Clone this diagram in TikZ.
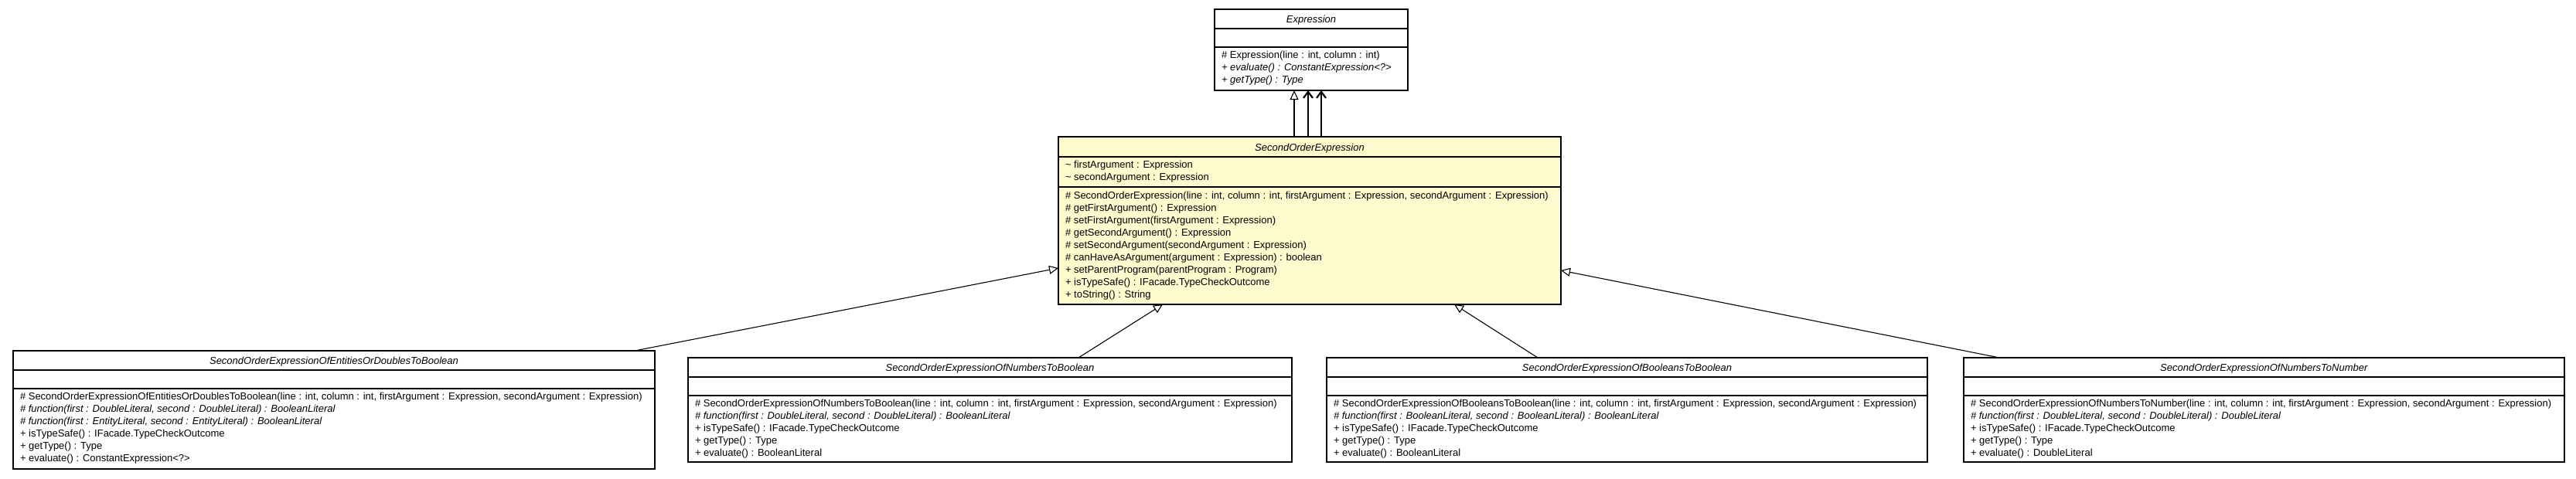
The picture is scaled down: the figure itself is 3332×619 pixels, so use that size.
\documentclass[tikz,border=0pt]{standalone}
\usepackage{fontspec}
\setmainfont{Liberation Sans}
\usetikzlibrary{arrows.meta,calc}
\definecolor{soefill}{HTML}{FFFACD}
\tikzset{
  cls/.style={draw=black, line width=1.3pt, fill=white, anchor=north west, inner sep=0pt, outer sep=0pt},
  txt/.style={inner sep=0pt, outer sep=0pt, font=\fontsize{13pt}{16pt}\selectfont},
  gen/.style={draw=black, line width=1.1pt, -{Triangle[open, length=12pt, width=11pt, fill=white]}},
  assoc/.style={draw=black, line width=1.3pt, -{Straight Barb[length=8pt, width=12pt, line width=2.2pt]}},
  divider/.style={draw=black, line width=1.3pt}
}
\newcommand{\classrows}[5]{%
  \foreach \rowtext [count=\rowi] in {#5} {
    \node[txt, anchor=base west] (#1-\rowi) at ($(#2.north west)+(#3,{#4+16*(\rowi-1)})$) {\rowtext};
  }%
}
\newcommand{\classdividers}[3]{%
  \draw[divider] ($(#1.north west)+(0,#2)$) -- ($(#1.north east)+(0,#2)$);
  \draw[divider] ($(#1.north west)+(0,#3)$) -- ($(#1.north east)+(0,#3)$);
}
\begin{document}
\begin{tikzpicture}[x=1pt, y=-1pt]
\useasboundingbox (0,0) rectangle (3332,619);

% Expression
\node[cls, minimum width=250pt, minimum height=105pt] (expr) at (1571,12) {};
\classdividers{expr}{25}{49}
\node[txt, anchor=base] (expr-t) at ($(expr.north)+(0,17.5)$) {\textit{Expression}};
\classrows{exprm}{expr}{9}{63.5}{{\# Expression(line : int, column : int)},{\textit{+ evaluate() : ConstantExpression<?>}},{\textit{+ getType() : Type}}}

% SecondOrderExpression
\node[cls, fill=soefill, minimum width=650pt, minimum height=217pt] (soe) at (1369,177) {};
\classdividers{soe}{26}{65}
\node[txt, anchor=base] (soe-t) at ($(soe.north)+(0,18)$) {\textit{SecondOrderExpression}};
\classrows{soea}{soe}{9}{40.5}{{\textasciitilde{} firstArgument : Expression},{\textasciitilde{} secondArgument : Expression}}
\classrows{soem}{soe}{9}{80}{{\# SecondOrderExpression(line : int, column : int, firstArgument : Expression, secondArgument : Expression)},{\# getFirstArgument() : Expression},{\# setFirstArgument(firstArgument : Expression)},{\# getSecondArgument() : Expression},{\# setSecondArgument(secondArgument : Expression)},{\# canHaveAsArgument(argument : Expression) : boolean},{+ setParentProgram(parentProgram : Program)},{+ isTypeSafe() : IFacade.TypeCheckOutcome},{+ toString() : String}}

% SecondOrderExpressionOfEntitiesOrDoublesToBoolean
\node[cls, minimum width=830pt, minimum height=153pt] (eod) at (17,454) {};
\classdividers{eod}{25}{49}
\node[txt, anchor=base] (eod-t) at ($(eod.north)+(0,17.5)$) {\textit{SecondOrderExpressionOfEntitiesOrDoublesToBoolean}};
\classrows{eodm}{eod}{9}{63.5}{{\# SecondOrderExpressionOfEntitiesOrDoublesToBoolean(line : int, column : int, firstArgument : Expression, secondArgument : Expression)},{\textit{\# function(first : DoubleLiteral, second : DoubleLiteral) : BooleanLiteral}},{\textit{\# function(first : EntityLiteral, second : EntityLiteral) : BooleanLiteral}},{+ isTypeSafe() : IFacade.TypeCheckOutcome},{+ getType() : Type},{+ evaluate() : ConstantExpression<?>}}

% SecondOrderExpressionOfNumbersToBoolean
\node[cls, minimum width=781pt, minimum height=135pt] (ntb) at (890,463) {};
\classdividers{ntb}{25}{49}
\node[txt, anchor=base] (ntb-t) at ($(ntb.north)+(0,17.5)$) {\textit{SecondOrderExpressionOfNumbersToBoolean}};
\classrows{ntbm}{ntb}{9}{63.5}{{\# SecondOrderExpressionOfNumbersToBoolean(line : int, column : int, firstArgument : Expression, secondArgument : Expression)},{\textit{\# function(first : DoubleLiteral, second : DoubleLiteral) : BooleanLiteral}},{+ isTypeSafe() : IFacade.TypeCheckOutcome},{+ getType() : Type},{+ evaluate() : BooleanLiteral}}

% SecondOrderExpressionOfBooleansToBoolean
\node[cls, minimum width=777pt, minimum height=135pt] (btb) at (1716,463) {};
\classdividers{btb}{25}{49}
\node[txt, anchor=base] (btb-t) at ($(btb.north)+(0,17.5)$) {\textit{SecondOrderExpressionOfBooleansToBoolean}};
\classrows{btbm}{btb}{9}{63.5}{{\# SecondOrderExpressionOfBooleansToBoolean(line : int, column : int, firstArgument : Expression, secondArgument : Expression)},{\textit{\# function(first : BooleanLiteral, second : BooleanLiteral) : BooleanLiteral}},{+ isTypeSafe() : IFacade.TypeCheckOutcome},{+ getType() : Type},{+ evaluate() : BooleanLiteral}}

% SecondOrderExpressionOfNumbersToNumber
\node[cls, minimum width=777pt, minimum height=135pt] (ntn) at (2540,463) {};
\classdividers{ntn}{25}{49}
\node[txt, anchor=base] (ntn-t) at ($(ntn.north)+(0,17.5)$) {\textit{SecondOrderExpressionOfNumbersToNumber}};
\classrows{ntnm}{ntn}{9}{63.5}{{\# SecondOrderExpressionOfNumbersToNumber(line : int, column : int, firstArgument : Expression, secondArgument : Expression)},{\textit{\# function(first : DoubleLiteral, second : DoubleLiteral) : DoubleLiteral}},{+ isTypeSafe() : IFacade.TypeCheckOutcome},{+ getType() : Type},{+ evaluate() : DoubleLiteral}}

% connectors to Expression
\draw[gen] ($(soe.north west)+(305,0)$) -- ($(expr.south west)+(103,0)$);
\draw[assoc] ($(soe.north west)+(323,0)$) -- ($(expr.south west)+(121,0)$);
\draw[assoc] ($(soe.north west)+(340,0)$) -- ($(expr.south west)+(138,0)$);

% generalizations to SecondOrderExpression
\draw[gen] ($(eod.north west)+(804,0)$) -- ($(soe.north west)+(0,170)$);
\draw[gen] ($(ntb.north west)+(505,0)$) -- ($(soe.south west)+(135,0)$);
\draw[gen] ($(btb.north west)+(273,0)$) -- ($(soe.south west)+(512,0)$);
\draw[gen] ($(ntn.north west)+(46,0)$) -- ($(soe.north east)+(0,173)$);
\end{tikzpicture}
\end{document}
